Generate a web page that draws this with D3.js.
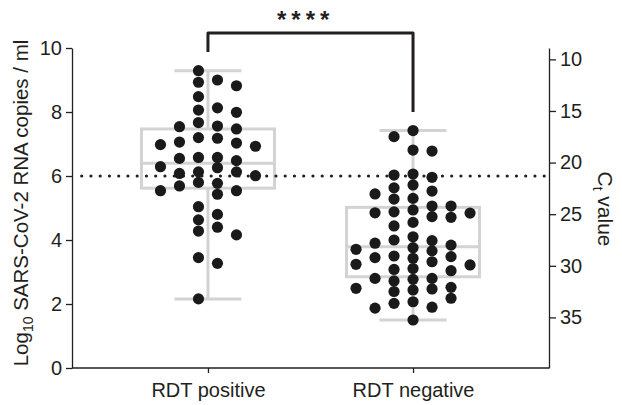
<!DOCTYPE html>
<html>
<head>
<meta charset="utf-8">
<script src="https://cdn.jsdelivr.net/npm/d3@7"></script>
<style>
  body { margin: 0; background: #fff; }
  svg text { font-family: "Liberation Sans", Arial, Helvetica, sans-serif; fill: #231f20; }
</style>
</head>
<body>
<div id="chart"></div>
<script>
// values (log10 copies / ml)
const categories = ['RDT positive', 'RDT negative'];
const rdtPositive = [9.29, 9.0, 8.93, 8.82, 8.48, 8.13, 8.06, 7.99, 7.67, 7.56, 7.54, 7.47, 7.20, 7.18,
    7.06, 7.03, 6.98, 6.93, 6.58, 6.58, 6.55, 6.48, 6.29, 6.26, 6.13, 6.13, 6.08, 6.01, 5.80, 5.77,
    5.69, 5.54, 5.54, 5.43, 5.04, 4.80, 4.63, 4.40, 4.28, 4.16, 3.45, 3.27, 2.16];
const rdtNegative = [7.42, 7.23, 6.81, 6.78, 6.06, 6.03, 5.96, 5.72, 5.63, 5.53, 5.44, 5.30, 5.28,
    5.06, 5.06, 4.94, 4.88, 4.85, 4.84, 4.73, 4.71, 4.55, 4.44, 4.10, 4.00, 3.98, 3.90, 3.84, 3.76,
    3.71, 3.66, 3.50, 3.48, 3.45, 3.43, 3.32, 3.24, 3.22, 3.11, 3.08, 3.04, 2.80, 2.80, 2.77, 2.72,
    2.52, 2.49, 2.47, 2.44, 2.39, 2.18, 2.07, 2.02, 1.90, 1.87, 1.50];
const q1 = [5.62, 2.85];
const medians = [6.40, 3.79];
const q3 = [7.47, 5.02];
const yTicks = [0, 2, 4, 6, 8, 10];
const ctTicks = [10, 15, 20, 25, 30, 35];
const ctDomain = [39.9, 8.9];
const threshold = 6;
const sigLabel = '****';

const width = 622, height = 405;
const mLeft = 72, mRight = 549, mTop = 48, mBottom = 368;
const r = 5.6;
const laneStep = 19;
const laneShift = [0.5, 0];   // lanes sit between centre lines for the first column
const minGap = 10.2;          // dots in one lane may touch slightly

const svg = d3.select('#chart').append('svg')
    .attr('width', width)
    .attr('height', height);

const y = d3.scaleLinear().domain([0, 10]).range([mBottom, mTop]);
const ct = d3.scaleLinear().domain(ctDomain).range([mBottom, mTop]);
const x = d3.scalePoint().domain(categories).range([mLeft, mRight]).padding(0.663);

// boxes
const groups = [rdtPositive, rdtNegative];
const boxHalf = 66.5, capHalf = 33.5;
const boxG = svg.append('g')
    .style('stroke', '#d3d3d3')
    .style('stroke-width', 3)
    .style('fill', 'none');
categories.forEach((c, i) => {
    const cx = x(c);
    const lo = d3.min(groups[i]), hi = d3.max(groups[i]);
    boxG.append('line').attr('x1', cx).attr('x2', cx).attr('y1', y(hi)).attr('y2', y(q3[i]));
    boxG.append('line').attr('x1', cx).attr('x2', cx).attr('y1', y(q1[i])).attr('y2', y(lo));
    boxG.append('line').attr('x1', cx - capHalf).attr('x2', cx + capHalf).attr('y1', y(hi)).attr('y2', y(hi));
    boxG.append('line').attr('x1', cx - capHalf).attr('x2', cx + capHalf).attr('y1', y(lo)).attr('y2', y(lo));
    boxG.append('rect')
        .attr('x', cx - boxHalf).attr('y', y(q3[i]))
        .attr('width', 2 * boxHalf).attr('height', y(q1[i]) - y(q3[i]));
    boxG.append('line').attr('x1', cx - boxHalf).attr('x2', cx + boxHalf)
        .attr('y1', y(medians[i])).attr('y2', y(medians[i]));
});

// threshold line
svg.append('line')
    .attr('x1', mLeft + 9.7).attr('x2', mRight)
    .attr('y1', y(threshold)).attr('y2', y(threshold))
    .style('stroke', '#231f20')
    .style('stroke-width', 3.2)
    .style('stroke-linecap', 'round')
    .style('stroke-dasharray', '0 9.25');

// scatter: each point goes to the free lane nearest the centre
function columnScatter(values, cx, shift) {
    const offsets = [];
    for (let k = 0; k < 10; k++) {
        const o = k + shift;
        if (o === 0) offsets.push([0]);
        else offsets.push([-o, o]);
    }
    const lanes = {};          // lane -> y of last dot
    let leftCount = 0, rightCount = 0;
    const out = [];
    values.slice().sort((a, b) => b - a).forEach(v => {
        const py = y(v);
        const free = k => lanes[k] === undefined || py - lanes[k] >= minGap;
        let lane = null;
        for (const pair of offsets) {
            const ok = pair.filter(free);
            if (!ok.length) continue;
            if (ok.length === 1) lane = ok[0];
            else lane = leftCount <= rightCount ? ok[0] : ok[1];
            break;
        }
        lanes[lane] = py;
        if (lane < 0) leftCount++;
        if (lane > 0) rightCount++;
        out.push({ x: cx + lane * laneStep, y: py, v: v });
    });
    return out;
}

categories.forEach((c, i) => {
    svg.append('g').selectAll('circle')
        .data(columnScatter(groups[i], x(c), laneShift[i]))
        .enter().append('circle')
        .attr('cx', d => d.x)
        .attr('cy', d => d.y)
        .attr('r', r)
        .style('fill', '#1a1a1a');
});

// axes
const axisStyle = g => {
    g.selectAll('path, line').style('stroke', '#231f20').style('stroke-width', 1.3);
    g.selectAll('text').style('font-size', '20px').style('fill', '#231f20')
        .style('font-family', '"Liberation Sans", Arial, sans-serif');
};
svg.append('g')
    .attr('transform', `translate(${mLeft},0)`)
    .call(d3.axisLeft(y).tickValues(yTicks).tickSize(6).tickSizeOuter(0).tickPadding(4))
    .call(axisStyle);
svg.append('g')
    .attr('transform', `translate(${mRight},0)`)
    .call(d3.axisRight(ct).tickValues(ctTicks).tickSize(7).tickSizeOuter(0).tickPadding(4))
    .call(axisStyle);
svg.append('g')
    .attr('transform', `translate(0,${mBottom})`)
    .call(d3.axisBottom(x).tickSize(5).tickPadding(10))
    .call(axisStyle)
    .call(g => g.select('.domain').attr('d', `M${mLeft},0H${mRight}`));

// axis titles
const yTitle = svg.append('text')
    .attr('transform', `translate(28,${(mTop + mBottom) / 2 - 5}) rotate(-90)`)
    .attr('text-anchor', 'middle')
    .style('font-size', '20.5px');
yTitle.append('tspan').text('Log');
yTitle.append('tspan').text('10').style('font-size', '14px').attr('dy', 5);
yTitle.append('tspan').text(' SARS-CoV-2 RNA copies / ml').attr('dy', -5);

const ctTitle = svg.append('text')
    .attr('transform', `translate(598,209) rotate(90)`)
    .attr('text-anchor', 'middle')
    .style('font-size', '21px');
ctTitle.append('tspan').text('C');
ctTitle.append('tspan').text('t').style('font-size', '14px').attr('dy', 5);
ctTitle.append('tspan').text(' value').attr('dy', -5);

// significance bracket
const hiPos = d3.max(rdtPositive), hiNeg = d3.max(rdtNegative);
const bracketY = 33;
svg.append('path')
    .attr('d', `M${x(categories[0])},${y(hiPos) - r - 13}V${bracketY}H${x(categories[1])}V${y(hiNeg) - r - 13}`)
    .style('fill', 'none')
    .style('stroke', '#231f20')
    .style('stroke-width', 3)
    .style('stroke-linejoin', 'round');
svg.append('text')
    .attr('x', 277)
    .attr('y', 28)
    .style('font-size', '24px')
    .style('font-weight', 'bold')
    .style('letter-spacing', '5px')
    .text(sigLabel);
</script>
</body>
</html>
